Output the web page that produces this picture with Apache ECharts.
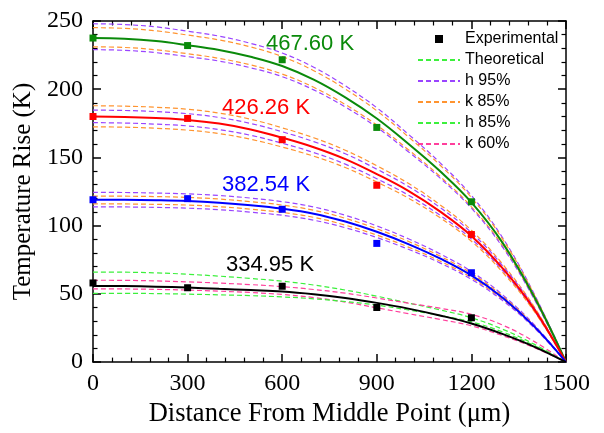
<!DOCTYPE html>
<html>
<head>
<meta charset="utf-8">
<script src="https://cdn.jsdelivr.net/npm/echarts@6/dist/echarts.min.js"></script>
<style>
html,body{margin:0;padding:0;background:#fff;}
#c{width:604px;height:433px;}
</style>
</head>
<body>
<div id="c"></div>
<script>
// ---- data ----
const xs = [0,100,200,300,400,500,600,700,800,900,1000,1100,1200,1300,1400,1500];
const xTicks = [0,300,600,900,1200,1500];
const yTicks = [0,50,100,150,200,250];

// 467.60 K group
const greenTheo = [237.5,237.0,235.3,232.3,228.8,223.8,217.0,207.0,194.0,178.5,160.0,140.0,117.0,87.0,47.5,0];
const greenH95Up = [248.0,247.4,245.7,242.5,238.9,233.6,226.5,216.1,202.5,186.4,167.0,146.2,122.1,90.8,49.6,0];
const greenK85Up = [245.1,244.6,242.8,239.7,236.1,231.0,223.9,213.6,200.2,184.2,165.1,144.5,120.7,89.8,49.0,0];
const greenK85Lo = [231.1,230.6,228.9,226.0,222.6,217.8,211.1,201.4,188.8,173.7,155.7,136.2,113.8,84.7,46.2,0];
const greenH95Lo = [229.0,228.5,226.8,223.9,220.6,215.7,209.2,199.5,187.0,172.1,154.2,135.0,112.8,83.9,45.8,0];
const greenExp = [[0,237.5],[300,232],[600,221.6],[900,172],[1200,117.5]];

// 426.26 K group
const redTheo = [180.0,179.7,178.9,177.5,174.8,170.5,164.5,157.5,148.8,137.8,125.5,110.5,92.5,68.5,38.5,0];
const redK85Up = [187.9,187.6,186.8,185.3,182.5,178.0,171.7,164.4,155.3,143.9,131.0,115.4,96.6,71.5,40.2,0];
const redH95Up = [184.7,184.4,183.6,182.1,179.3,174.9,168.8,161.6,152.7,141.4,128.8,113.4,94.9,70.3,39.5,0];
const redH95Lo = [175.5,175.2,174.4,173.1,170.4,166.2,160.4,153.6,145.1,134.4,122.4,107.7,90.2,66.8,37.5,0];
const redK85Lo = [172.4,172.2,171.4,170.0,167.5,163.3,157.6,150.9,142.6,132.0,120.2,105.9,88.6,65.6,36.9,0];
const redExp = [[0,180],[300,178.6],[600,163],[900,129.6],[1200,93.5]];

// 382.54 K group
const blueTheo = [119.0,118.9,118.6,118.0,116.8,115.0,112.5,108.8,103.0,95.5,86.5,76.0,63.5,47.0,26.0,0];
const blueH95Up = [124.4,124.3,123.9,123.3,122.1,120.2,117.6,113.7,107.6,99.8,90.4,79.4,66.4,49.1,27.2,0];
const blueK85Up = [121.7,121.6,121.3,120.7,119.5,117.6,115.1,111.3,105.4,97.7,88.5,77.7,65.0,48.1,26.6,0];
const blueK85Lo = [116.0,115.9,115.6,115.1,113.9,112.1,109.7,106.1,100.4,93.1,84.3,74.1,61.9,45.8,25.4,0];
const blueH95Lo = [113.8,113.7,113.4,112.8,111.7,109.9,107.6,104.0,98.5,91.3,82.7,72.7,60.7,44.9,24.9,0];
const blueExp = [[0,119],[300,119.8],[600,112],[900,87],[1200,65.5]];

// 334.95 K group
const blackTheo = [55.8,55.7,55.3,54.6,53.7,52.8,51.8,49.8,47.0,43.4,39.2,34.2,28.3,20.5,11.2,0];
const blackH85Up = [66.0,65.9,65.4,64.4,63.0,61.3,59.3,56.5,52.8,48.3,43.3,38.3,32.5,24.0,13.0,0];
const blackK60Up = [60.0,59.9,59.5,58.8,57.9,56.8,55.3,53.2,50.5,47.0,43.2,39.5,35.0,27.0,15.0,0];
const blackK60Lo = [53.7,53.6,53.3,52.8,52.0,51.0,49.6,47.3,44.0,39.8,35.5,31.3,26.6,19.3,10.5,0];
const blackH85Lo = [50.4,50.4,50.2,49.8,49.3,48.7,47.8,46.4,44.4,41.8,38.2,34.2,29.5,22.0,12.0,0];
const blackExp = [[0,58],[300,54.5],[600,55.6],[900,40],[1200,32.5]];

const groupLabels = ['467.60 K','426.26 K','382.54 K','334.95 K'];
const legendNames = ['Experimental','Theoretical','h 95%','k 85%','h 85%','k 60%'];

// ---- styles ----
const C = {
  green:'#0a8a0a', red:'#ff0000', blue:'#0000ff', black:'#000000',
  purple:'#9a44ff', orange:'#ff9430', lime:'#3cf03c', pink:'#ff3f9c'
};
const serif = '"Liberation Serif","Times New Roman",serif';
const sans = '"Liberation Sans",Arial,sans-serif';
const dash = [5,3];

function pts(arr){ return xs.map((x,i)=>[x,arr[i]]); }
function dashed(name, arr, color){
  return {type:'line', name, data:pts(arr), smooth:0.4, symbol:'none', showSymbol:false,
    lineStyle:{color, width:1.2, type:dash}, itemStyle:{color}, z:2, silent:true};
}
function solid(name, arr, color){
  return {type:'line', name, data:pts(arr), smooth:0.4, symbol:'none', showSymbol:false,
    lineStyle:{color, width:2}, itemStyle:{color}, z:3, silent:true};
}
function expItems(arr, color){ return arr.map(p=>({value:p, itemStyle:{color}})); }

const series = [
  dashed('h 95%', greenH95Up, C.purple), dashed('k 85%', greenK85Up, C.orange),
  dashed('k 85%', greenK85Lo, C.orange), dashed('h 95%', greenH95Lo, C.purple),
  dashed('k 85%', redK85Up, C.orange), dashed('h 95%', redH95Up, C.purple),
  dashed('h 95%', redH95Lo, C.purple), dashed('k 85%', redK85Lo, C.orange),
  dashed('h 95%', blueH95Up, C.purple), dashed('k 85%', blueK85Up, C.orange),
  dashed('k 85%', blueK85Lo, C.orange), dashed('h 95%', blueH95Lo, C.purple),
  dashed('h 85%', blackH85Up, C.lime), dashed('k 60%', blackK60Up, C.pink),
  dashed('k 60%', blackK60Lo, C.pink), dashed('h 85%', blackH85Lo, C.lime),
  // legend entry "Theoretical" is drawn as a green dashed key in the original
  {type:'line', name:'Theoretical', data:[], symbol:'none', showSymbol:false,
   lineStyle:{color:C.lime, width:1.2, type:dash}, itemStyle:{color:C.lime}, silent:true},
  solid('Theoretical 467.60 K', greenTheo, C.green), solid('Theoretical 426.26 K', redTheo, C.red),
  solid('Theoretical 382.54 K', blueTheo, C.blue), solid('Theoretical 334.95 K', blackTheo, C.black),
  {type:'line', name:'Experimental', symbol:'rect', symbolSize:7, showSymbol:true,
   lineStyle:{opacity:0, width:0}, itemStyle:{color:'#000'}, z:5, silent:true,
   data:[].concat(expItems(greenExp,C.green), expItems(redExp,C.red), expItems(blueExp,C.blue), expItems(blackExp,C.black))}
];

const axisLine = {show:true, onZero:false, lineStyle:{color:'#000', width:1.5}};
const tick = {show:true, inside:true, length:8, lineStyle:{color:'#000', width:1.5}};
const minor = {show:true, splitNumber:5, length:4.5, lineStyle:{color:'#000', width:1.2}};
const lbl = {color:'#000', fontFamily:serif, fontSize:24, formatter:v=>String(v)};

const chart = echarts.init(document.getElementById('c'), null, {renderer:'canvas'});
chart.setOption({
  animation:false,
  backgroundColor:'#fff',
  grid:{left:93, right:38, top:21, bottom:65, containLabel:false},
  xAxis:[
    {type:'value', min:xTicks[0], max:xTicks[xTicks.length-1], interval:xTicks[1]-xTicks[0], position:'bottom',
     axisLine, axisTick:tick, minorTick:minor, splitLine:{show:false}, minorSplitLine:{show:false},
     axisLabel:Object.assign({margin:10}, lbl),
     name:'Distance From Middle Point (\u03bcm)', nameLocation:'middle', nameGap:29,
     nameTextStyle:{color:'#000', fontFamily:serif, fontSize:26.5}},
    {type:'value', min:xTicks[0], max:xTicks[xTicks.length-1], interval:xTicks[1]-xTicks[0], position:'top',
     axisLine, axisTick:tick, minorTick:minor, splitLine:{show:false}, axisLabel:{show:false}}
  ],
  yAxis:[
    {type:'value', min:yTicks[0], max:yTicks[yTicks.length-1], interval:yTicks[1]-yTicks[0], position:'left',
     axisLine, axisTick:tick, minorTick:minor, splitLine:{show:false}, minorSplitLine:{show:false},
     axisLabel:Object.assign({margin:10}, lbl),
     name:'Temperature Rise (K)', nameLocation:'middle', nameGap:50,
     nameTextStyle:{color:'#000', fontFamily:serif, fontSize:25}},
    {type:'value', min:yTicks[0], max:yTicks[yTicks.length-1], interval:yTicks[1]-yTicks[0], position:'right',
     axisLine, axisTick:tick, minorTick:minor, splitLine:{show:false}, axisLabel:{show:false}}
  ],
  legend:{
    orient:'vertical', left:412, top:26, itemWidth:42, itemHeight:10, itemGap:5,
    textStyle:{color:'#000', fontFamily:sans, fontSize:16, lineHeight:16},
    selectedMode:false,
    data:legendNames.map((n,i)=> i===0 ? {name:n} : {name:n, itemStyle:{opacity:0}})
  },
  graphic:[
    {type:'text', left:266, top:33, style:{text:groupLabels[0], fill:C.green, font:'22px '+sans}},
    {type:'text', left:222, top:97, style:{text:groupLabels[1], fill:C.red, font:'22px '+sans}},
    {type:'text', left:222, top:174, style:{text:groupLabels[2], fill:C.blue, font:'22px '+sans}},
    {type:'text', left:226, top:254, style:{text:groupLabels[3], fill:C.black, font:'22px '+sans}}
  ],
  series
});
</script>
</body>
</html>
